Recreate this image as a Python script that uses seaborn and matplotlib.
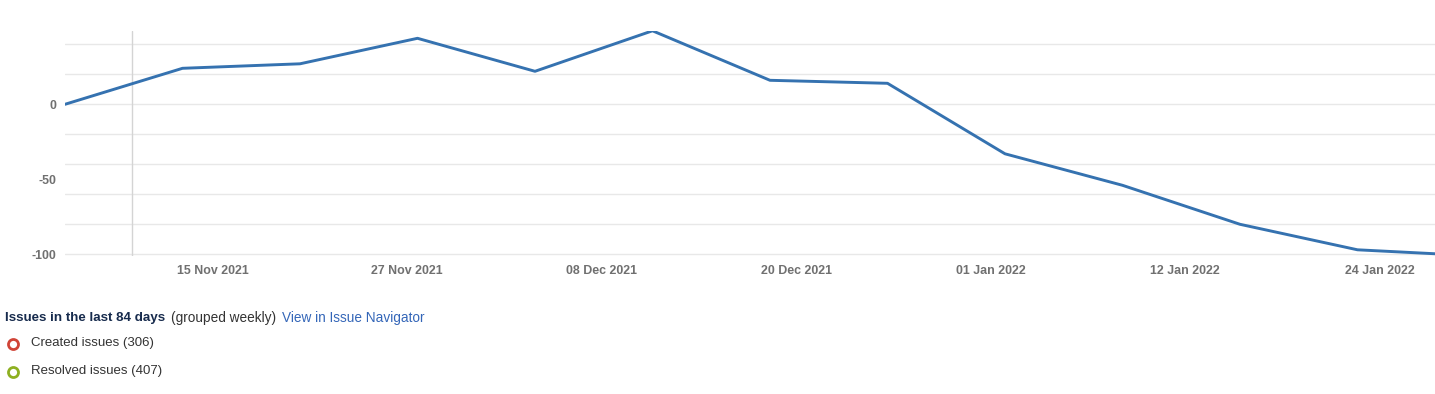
import numpy as np
import pandas as pd
import seaborn as sns
import matplotlib.pyplot as plt

# weekly cumulative difference (created - resolved)
week_index = list(range(13))
difference = [0, 24, 27, 44, 22, 49, 16, 14, -33, -54, -80, -97, -101]

date_labels = ['15 Nov 2021', '27 Nov 2021', '08 Dec 2021', '20 Dec 2021',
               '01 Jan 2022', '12 Jan 2022', '24 Jan 2022']
y_labels = [0, -50, -100]
grid_values = [40, 20, 0, -20, -40, -60, -80, -100]

created_total = 306
resolved_total = 407
days_shown = 84

W, H = 1435, 394
sns.set_theme(style='white')
plt.rcParams['font.family'] = ['Liberation Sans', 'DejaVu Sans']

fig = plt.figure(figsize=(W / 100, H / 100), dpi=100)
ax_left, ax_top, ax_bottom = 65, 30.8, 255.8
ax = fig.add_axes([ax_left / W, 1 - ax_bottom / H, 1 - ax_left / W, (ax_bottom - ax_top) / H])

df = pd.DataFrame({'day': np.array(week_index) * 7, 'difference': difference})
sns.lineplot(data=df, x='day', y='difference', ax=ax, color='#3572b0', linewidth=2.1, zorder=3)

px_per_day = 117.5 / 7
ax.set_xlim(0, (W - ax_left) / px_per_day)
ax.set_ylim(-101, 49)

for g in grid_values:
    ax.axhline(g, color='#e8e8e8', linewidth=1, zorder=1)
ax.axvline(4, color='#d4d4d4', linewidth=1, zorder=1)

tick_pos = 8.79 + 11.59 * np.arange(len(date_labels))
ax.set_xticks(tick_pos)
ax.set_xticklabels(date_labels)
ax.set_yticks(y_labels)
ax.set_yticklabels([str(v) for v in y_labels])
ax.tick_params(axis='both', length=0, labelsize=8.9, labelcolor='#707070')
ax.tick_params(axis='x', pad=6.5)
ax.tick_params(axis='y', pad=6.5)
for lab in ax.get_xticklabels() + ax.get_yticklabels():
    lab.set_fontweight('bold')
ax.set_xlabel('')
ax.set_ylabel('')
for s in ax.spines.values():
    s.set_visible(False)

# legend area below the chart, in pixel coordinates
ov = fig.add_axes([0, 0, 1, 1], zorder=5)
ov.set_xlim(0, W)
ov.set_ylim(H, 0)
ov.axis('off')
ov.patch.set_alpha(0)

fig.canvas.draw()
renderer = fig.canvas.get_renderer()

def put(x, y, text, size=9.6, **kw):
    t = ov.text(x, y, text, va='center', ha='left', fontsize=size, **kw)
    bb = t.get_window_extent(renderer=renderer)
    return x + bb.width

x = put(5, 318, 'Issues in the last %d days' % days_shown, fontweight='bold', color='#172b4d')
x = put(x + 6, 318, '(grouped weekly)', size=9.8, color='#333333')
put(x + 6, 318, 'View in Issue Navigator', size=9.8, color='#3466b8')

ov.scatter([13], [344], s=52, marker='o', facecolor='white', edgecolor='#d04437', linewidth=2.0)
ov.scatter([13], [372], s=52, marker='o', facecolor='white', edgecolor='#8eb021', linewidth=2.0)
put(31, 343, 'Created issues (%d)' % created_total, size=9.5, color='#333333')
put(31, 371, 'Resolved issues (%d)' % resolved_total, size=9.5, color='#333333')

fig.savefig('out.png', dpi=100)
